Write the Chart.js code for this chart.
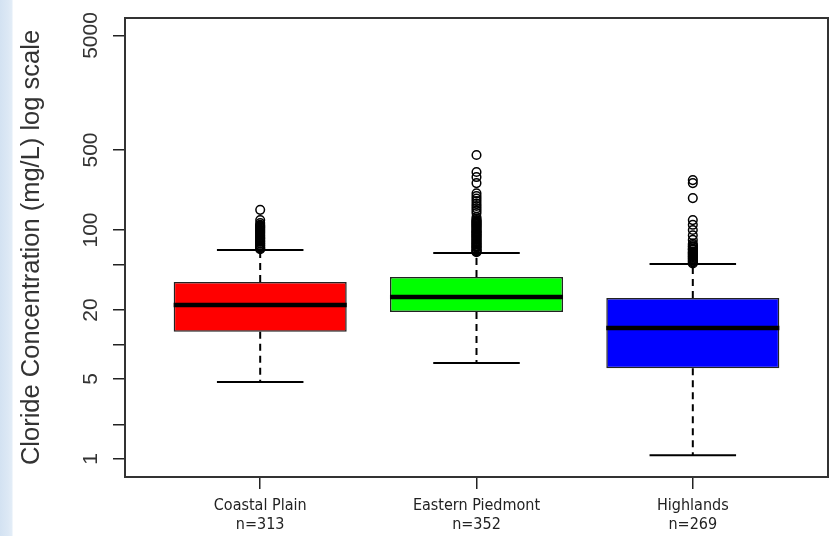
<!DOCTYPE html>
<html>
<head>
<meta charset="utf-8">
<script src="https://cdn.jsdelivr.net/npm/chart.js@4.4.1/dist/chart.umd.min.js"></script>
<style>
  body { margin: 0; background: #fff; }
  #wrap {
    width: 834px; height: 536px;
    background: linear-gradient(90deg, #d3e2f2 0, #dce8f5 8px, #e3edf7 12px, #fff 13px);
  }
</style>
</head>
<body>
<div id="wrap"><canvas id="chloride" width="834" height="536"></canvas></div>
<script>
// regions and sample counts
const regions = ['Coastal Plain', 'Eastern Piedmont', 'Highlands'];
const counts = [313, 352, 269];
const boxColors = ['#ff0000', '#00ff00', '#0000ff'];

// box statistics, mg/L
const lowerWhisker = [4.7, 6.9, 1.08];
const q1 = [12.9, 19.2, 6.2];
const median = [22.1, 26.0, 13.9];
const q3 = [35.1, 38.9, 25.5];
const upperWhisker = [66.9, 63, 50.5];

// outliers (the solid black runs are many overlapping points)
const outCoastal = [150, 122, 115, 111, 109, 107, 105, 103, 101, 99, 97, 95, 93, 91, 89, 87, 85,
    84, 82, 80, 79, 77, 76, 74, 73, 71, 70, 69, 68];
const outPiedmont = [452, 321, 290, 257, 209, 198, 188, 179, 170, 162, 155, 148, 141, 130, 125, 122,
    120, 118, 116, 114, 112, 110, 108, 106, 104, 102, 100, 98, 97, 95, 94, 92, 91, 89, 88, 86, 85,
    83, 82, 80, 79, 77, 76, 75, 73, 72, 71, 70, 68, 67, 66, 65, 64];
const outHighlands = [273, 257, 190, 122, 111, 100, 90, 82, 76, 74, 72, 71, 69, 68, 67, 65, 64, 63,
    62, 61, 60, 59, 58, 57, 56, 55, 54, 53, 52, 51];

// axis ticks
const yTicks = [1, 2, 5, 10, 20, 50, 100, 500, 5000];
const yLabels = [1, 5, 20, 100, 500, 5000];

const halfBox = 0.4;
const halfCap = 0.2;

function segments(fn) {
    let pts = [];
    for (let i = 0; i < regions.length; i++) {
        pts = pts.concat(fn(i + 1, i));
        pts.push({ x: i + 1, y: null });
    }
    return pts;
}

const boxData = regions.map((r, i) => ({ x: i + 1, y: [q1[i], q3[i]] }));
const medianData = segments((x, i) => [{ x: x - halfBox, y: median[i] }, { x: x + halfBox, y: median[i] }]);
const whiskerData = segments((x, i) => [{ x: x, y: q3[i] }, { x: x, y: upperWhisker[i] }, { x: x, y: null },
    { x: x, y: q1[i] }, { x: x, y: lowerWhisker[i] }]);
const capData = segments((x, i) => [{ x: x - halfCap, y: upperWhisker[i] }, { x: x + halfCap, y: upperWhisker[i] },
    { x: x, y: null }, { x: x - halfCap, y: lowerWhisker[i] }, { x: x + halfCap, y: lowerWhisker[i] }]);
const outlierData = [];
[outCoastal, outPiedmont, outHighlands].forEach((list, i) => {
    list.forEach(v => outlierData.push({ x: i + 1, y: v }));
});

const frame = {
    id: 'frame',
    afterDatasetsDraw(chart) {
        const { ctx, chartArea: a } = chart;
        ctx.save();
        ctx.strokeStyle = '#333';
        ctx.lineWidth = 2;
        ctx.strokeRect(a.left, a.top, a.right - a.left, a.bottom - a.top);
        ctx.restore();
    }
};

const lineSet = (data, width, dash) => ({
    type: 'scatter',
    data: data,
    showLine: true,
    spanGaps: false,
    borderColor: '#000',
    borderWidth: width,
    borderDash: dash,
    pointRadius: 0,
    fill: false
});

const config = {
    type: 'bar',
    data: {
        datasets: [
            Object.assign(lineSet(medianData, 4.5, []), { order: 0 }),
            {
                type: 'scatter',
                data: outlierData,
                pointStyle: 'circle',
                pointRadius: 4.3,
                pointBorderWidth: 1.5,
                pointBorderColor: '#000',
                pointBackgroundColor: 'rgba(255,255,255,0)',
                order: 1
            },
            Object.assign(lineSet(capData, 2, []), { order: 2 }),
            Object.assign(lineSet(whiskerData, 2, [7, 5]), { order: 3 }),
            {
                type: 'bar',
                data: boxData,
                backgroundColor: boxColors,
                borderColor: '#222',
                borderWidth: 1.5,
                borderSkipped: false,
                barPercentage: 0.8,
                categoryPercentage: 1,
                order: 4
            }
        ]
    },
    options: {
        responsive: false,
        animation: false,
        devicePixelRatio: 1,
        layout: { padding: { top: 18, right: 6, left: 0, bottom: 0 } },
        plugins: { legend: { display: false }, tooltip: { enabled: false } },
        scales: {
            x: {
                type: 'linear',
                min: 0.375,
                max: 3.625,
                offset: false,
                border: { display: false },
                grid: { display: true, offset: false, drawOnChartArea: false, drawTicks: true, tickLength: 12, color: '#222', lineWidth: 1.5 },
                afterBuildTicks: (scale) => {
                    scale.ticks = regions.map((r, i) => ({ value: i + 1 }));
                },
                afterFit: (scale) => {
                    scale.height = 59;
                    scale.paddingLeft = 0;
                    scale.paddingRight = 0;
                },
                ticks: {
                    autoSkip: false,
                    maxRotation: 0,
                    padding: 8,
                    color: '#222',
                    font: { family: "'Liberation Sans Narrow', 'DejaVu Sans Condensed', sans-serif", size: 16, lineHeight: 1.15 },
                    callback: (value) => {
                        const i = Math.round(value) - 1;
                        return [regions[i], 'n=' + counts[i]];
                    }
                }
            },
            y: {
                type: 'logarithmic',
                min: 0.696,
                max: 7110,
                border: { display: false },
                grid: { display: true, drawOnChartArea: false, drawTicks: true, tickLength: 12, color: '#222', lineWidth: 1.5 },
                afterBuildTicks: (scale) => {
                    scale.ticks = yTicks.map(v => ({ value: v }));
                },
                afterFit: (scale) => {
                    scale.width = 125;
                    scale.paddingTop = 0;
                    scale.paddingBottom = 0;
                },
                title: {
                    display: true,
                    text: 'Cloride Concentration (mg/L) log scale',
                    color: '#333',
                    font: { family: "'Liberation Sans', Arial, sans-serif", size: 25.5, lineHeight: 1.2 },
                    padding: { top: 17, bottom: 0 }
                },
                ticks: {
                    autoSkip: false,
                    minRotation: 90,
                    maxRotation: 90,
                    crossAlign: 'center',
                    padding: -2,
                    color: '#333',
                    font: { family: "'Liberation Sans', Arial, sans-serif", size: 21 },
                    callback: (value) => yLabels.includes(value) ? String(value) : ''
                }
            }
        }
    },
    plugins: [frame]
};

const chlorideChart = new Chart(document.getElementById('chloride'), config);
</script>
</body>
</html>
